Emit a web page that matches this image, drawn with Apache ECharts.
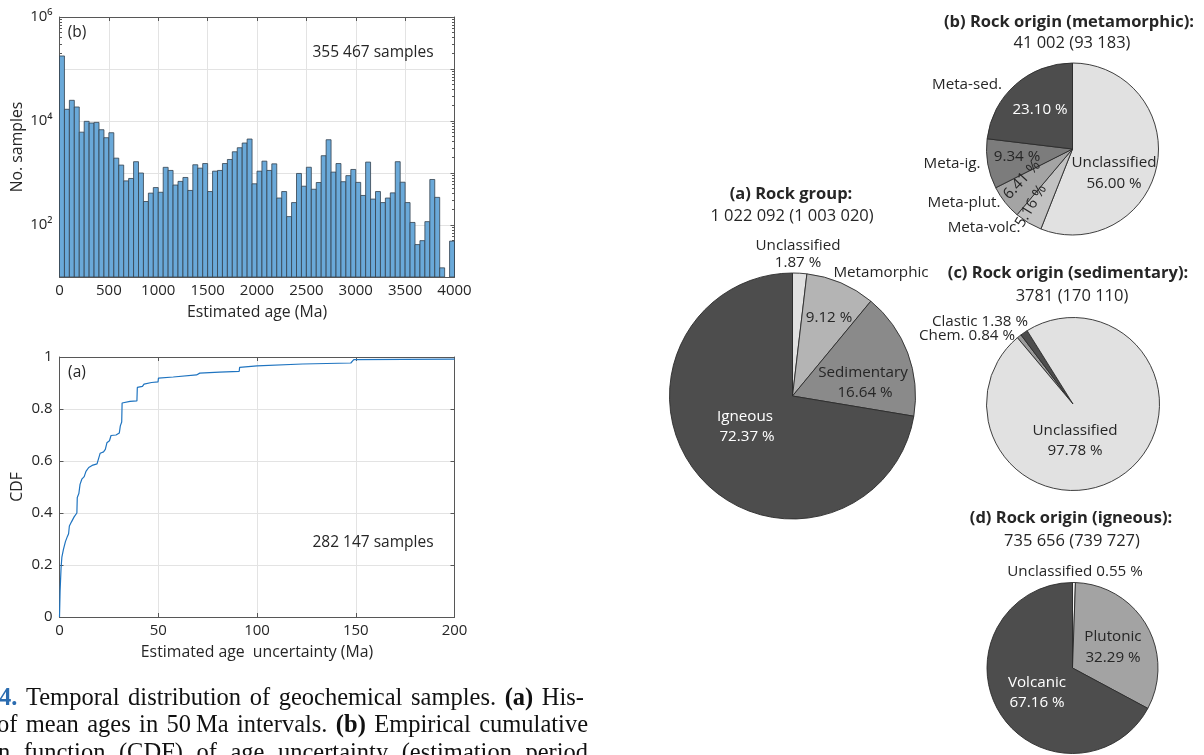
<!DOCTYPE html>
<html>
<head>
<meta charset="utf-8">
<script src="https://cdn.jsdelivr.net/npm/echarts@6/dist/echarts.min.js"></script>
<style>
  html, body { margin: 0; padding: 0; background: #ffffff; }
  #chart { width: 1204px; height: 755px; }
</style>
</head>
<body>
<div id="chart"></div>
<script>
// ---- Histogram of mean ages (50 Ma bins) ----
const ageBinStart = [0,50,100,150,200,250,300,350,400,450,500,550,600,650,700,750,800,850,900,950,
  1000,1050,1100,1150,1200,1250,1300,1350,1400,1450,1500,1550,1600,1650,1700,1750,1800,1850,1900,1950,
  2000,2050,2100,2150,2200,2250,2300,2350,2400,2450,2500,2550,2600,2650,2700,2750,2800,2850,2900,2950,
  3000,3050,3100,3150,3200,3250,3300,3350,3400,3450,3500,3550,3600,3650,3700,3750,3800,3850,3900,3950];
const ageBinWidth = 50;
const ageCounts = [178000,16800,25000,18600,6100,9850,9150,9400,6800,4770,
  5950,1930,1420,705,785,1650,1000,283,410,525,
  426,1285,1120,587,690,820,462,1440,1240,1520,
  440,1085,1120,1520,1820,2560,3060,3770,4500,620,
  1085,1690,1120,1500,330,440,145,270,980,557,
  1290,487,656,2150,4360,1040,1520,680,890,1170,
  660,370,1620,315,440,270,330,415,1650,665,
  270,112,42,50,116,750,340,15,0,49];
const countTickLabels = { 100: '10²', 10000: '10⁴', 1000000: '10⁶' };

// ---- Empirical CDF of age uncertainty ----
const cdfX = [0, 0.3, 0.8, 1.2, 2.0, 3.0, 4.0, 4.6, 5.0, 6.0, 7.4, 8.8, 9.0, 9.8, 10.4, 11.3, 12.5, 13.4,
  14.8, 16.5, 19.0, 20.0, 20.6, 22.3, 23.2, 24.0, 25.3, 26.1, 28.6, 30.3, 30.8, 31.5, 31.7, 35.7, 39.2,
  39.4, 42.0, 42.8, 46.6, 49.9, 50.1, 57.6, 69.4, 71.0, 81.0, 91.0, 91.2, 100, 123, 147.5, 149, 200];
const cdfY = [0, 0.10, 0.19, 0.23, 0.26, 0.29, 0.31, 0.32, 0.35, 0.365, 0.385, 0.40, 0.46, 0.475, 0.51,
  0.53, 0.54, 0.56, 0.575, 0.583, 0.589, 0.595, 0.63, 0.635, 0.645, 0.67, 0.678, 0.698, 0.70, 0.708,
  0.735, 0.75, 0.823, 0.829, 0.831, 0.883, 0.887, 0.896, 0.902, 0.904, 0.919, 0.923, 0.931, 0.938,
  0.942, 0.945, 0.960, 0.966, 0.973, 0.977, 0.990, 0.992];

// ---- Pie charts: rock classification (percent) ----
const groupNames = ['Unclassified', 'Metamorphic', 'Sedimentary', 'Igneous'];
const groupShares = [1.87, 9.12, 16.64, 72.37];
const metaNames = ['Unclassified', 'Meta-volc.', 'Meta-plut.', 'Meta-ig.', 'Meta-sed.'];
const metaShares = [56.00, 5.16, 6.41, 9.34, 23.10];
const sedNames = ['Chem.', 'Clastic', 'Unclassified'];
const sedShares = [0.84, 1.38, 97.78];
const ignNames = ['Unclassified', 'Plutonic', 'Volcanic'];
const ignShares = [0.55, 32.29, 67.16];

// ---- Caption lines (justified); 'n' = figure number, 'b' = bold ----
const captionLines = [
  [['4.', 'n'], ['Temporal'], ['distribution'], ['of'], ['geochemical'], ['samples.'], ['(a)', 'b'], ['His-']],
  [['of'], ['mean'], ['ages'], ['in'], ['50\u2009Ma'], ['intervals.'], ['(b)', 'b'], ['Empirical'], ['cumulative']],
  [['n'], ['function'], ['(CDF)'], ['of'], ['age'], ['uncertainty'], ['(estimation'], ['period']]
];

const SANS = '"Open Sans", "Noto Sans", sans-serif';
const SERIF_NAME = 'Liberation Serif';
const SERIF = '"Liberation Serif", "DejaVu Serif", serif';
const INK = '#262626';
const AXIS = '#575757';
const GRID = '#e3e3e3';
const COUNT_MIN = 10;
const PL = 15.2;   // pie label size
const PT = 16.5;   // pie title size
const CAP = 24.5;  // caption size

const chart = echarts.init(document.getElementById('chart'), null, { renderer: 'canvas' });

function pct(v) { return v.toFixed(2) + ' %'; }

function text(x, y, str, o) {
  o = o || {};
  const align = o.align || 'center';
  const v = o.vAlign || 'middle';
  return {
    type: 'text', x: x, y: y, rotation: o.rotation || 0, silent: true, z: 100,
    style: {
      text: str,
      fill: o.color || INK,
      fontSize: o.size || 15.5,
      fontFamily: o.family || SANS,
      fontWeight: o.weight || 'normal',
      align: align, verticalAlign: v,
      textAlign: align, textVerticalAlign: v
    }
  };
}

// Lay out one caption line with word gaps stretched to fill [left, right].
const measureCtx = document.createElement('canvas').getContext('2d');
function captionLine(words, left, right, y) {
  const widths = words.map(w => {
    measureCtx.font = (w[1] ? 'bold ' : '') + CAP + 'px "' + SERIF_NAME + '"';
    return measureCtx.measureText(w[0]).width;
  });
  const total = widths.reduce((a, b) => a + b, 0);
  const gap = (right - left - total) / (words.length - 1);
  let x = left;
  return words.map((w, i) => {
    const el = text(x, y, w[0], {
      align: 'left', family: SERIF, size: CAP,
      weight: w[1] ? 'bold' : 'normal',
      color: w[1] === 'n' ? '#2b6cb0' : '#111111'
    });
    x += widths[i] + gap;
    return el;
  });
}

function pieSeries(names, shares, colors, center, radius, startAngle) {
  return {
    type: 'pie', center: center, radius: radius, startAngle: startAngle, clockwise: true,
    silent: true, label: { show: false }, labelLine: { show: false },
    itemStyle: { borderColor: '#2b2b2b', borderWidth: 0.9 },
    data: names.map((n, i) => ({ name: n, value: shares[i], itemStyle: { color: colors[i] } }))
  };
}

const baseAxis = {
  type: 'value',
  axisLine: { show: true, onZero: false, lineStyle: { color: AXIS, width: 1 } },
  axisTick: { show: true, inside: true, length: 4, lineStyle: { color: AXIS } },
  axisLabel: { color: INK, fontFamily: SANS, fontSize: 15, margin: 6, formatter: v => String(v) },
  splitLine: { show: true, lineStyle: { color: GRID, width: 1 } },
  nameTextStyle: { color: INK, fontFamily: SANS, fontSize: 15.8 }
};

function axis(extra) { return Object.assign({}, baseAxis, extra); }

const graphicEls = [
  // panel annotations
  text(77, 33, '(b)'),
  text(373, 53, '355 467 samples'),
  text(77, 373, '(a)'),
  text(373, 543, '282 147 samples'),

  // (a) rock group
  text(791, 194, '(a) Rock group:', { weight: 'bold', size: PT }),
  text(792, 216, '1 022 092 (1 003 020)', { size: PT }),
  text(798, 246, groupNames[0], { size: PL }),
  text(798, 263, pct(groupShares[0]), { size: PL }),
  text(881, 273, groupNames[1], { size: PL }),
  text(829, 318, pct(groupShares[1]), { size: PL }),
  text(863, 373, groupNames[2], { size: PL }),
  text(865, 393, pct(groupShares[2]), { size: PL }),
  text(745, 417, groupNames[3], { size: PL, color: '#ffffff' }),
  text(747, 437, pct(groupShares[3]), { size: PL, color: '#ffffff' }),

  // (b) metamorphic origin
  text(1069, 22, '(b) Rock origin (metamorphic):', { weight: 'bold', size: PT }),
  text(1072, 43, '41 002 (93 183)', { size: PT }),
  text(967, 85, metaNames[4], { size: PL }),
  text(1040, 110, pct(metaShares[4]), { size: PL, color: '#ffffff' }),
  text(952, 164, metaNames[3], { size: PL }),
  text(1017, 157, pct(metaShares[3]), { size: PL }),
  text(1114, 163, metaNames[0], { size: PL }),
  text(1114, 184, pct(metaShares[0]), { size: PL }),
  text(964, 203, metaNames[2], { size: PL }),
  text(984, 228, metaNames[1], { size: PL }),
  text(1022, 180, pct(metaShares[2]), { size: PL, rotation: 47 * Math.PI / 180 }),
  text(1031, 206, pct(metaShares[1]), { size: PL, rotation: 59 * Math.PI / 180 }),

  // (c) sedimentary origin
  text(1068, 273, '(c) Rock origin (sedimentary):', { weight: 'bold', size: PT }),
  text(1072, 296, '3781 (170 110)', { size: PT }),
  text(1028, 322, sedNames[1] + ' ' + pct(sedShares[1]), { size: PL, align: 'right' }),
  text(1015, 336, sedNames[0] + ' ' + pct(sedShares[0]), { size: PL, align: 'right' }),
  text(1075, 431, sedNames[2], { size: PL }),
  text(1075, 451, pct(sedShares[2]), { size: PL }),

  // (d) igneous origin
  text(1071, 518, '(d) Rock origin (igneous):', { weight: 'bold', size: PT }),
  text(1072, 541, '735 656 (739 727)', { size: PT }),
  text(1075, 572, ignNames[0] + ' ' + pct(ignShares[0]), { size: PL }),
  text(1113, 637, ignNames[1], { size: PL }),
  text(1113, 658, pct(ignShares[1]), { size: PL }),
  text(1037, 683, ignNames[2], { size: PL, color: '#ffffff' }),
  text(1037, 703, pct(ignShares[2]), { size: PL, color: '#ffffff' })
].concat(
  captionLine(captionLines[0], -1, 584, 699),
  captionLine(captionLines[1], -3, 588, 726),
  captionLine(captionLines[2], -2, 588, 754)
);

const option = {
  animation: false,
  backgroundColor: '#ffffff',
  grid: [
    { left: 59.5, top: 17, width: 395, height: 260 },
    { left: 59.5, top: 357, width: 395, height: 260 }
  ],
  xAxis: [
    axis({ gridIndex: 0, min: 0, max: 4000, interval: 500, position: 'bottom',
      name: 'Estimated age (Ma)', nameLocation: 'middle', nameGap: 27 }),
    axis({ gridIndex: 0, min: 0, max: 4000, interval: 500, position: 'top',
      axisLabel: { show: false }, splitLine: { show: false } }),
    axis({ gridIndex: 1, min: 0, max: 200, interval: 50, position: 'bottom',
      name: 'Estimated age  uncertainty (Ma)', nameLocation: 'middle', nameGap: 27 }),
    axis({ gridIndex: 1, min: 0, max: 200, interval: 50, position: 'top',
      axisLabel: { show: false }, splitLine: { show: false } })
  ],
  yAxis: [
    axis({ gridIndex: 0, type: 'log', logBase: 10, min: COUNT_MIN, max: 1000000, position: 'left',
      axisLabel: { color: INK, fontFamily: SANS, fontSize: 15, margin: 7,
        formatter: v => countTickLabels[Math.round(v)] || '' },
      minorTick: { show: true, splitNumber: 9, length: 2.5, lineStyle: { color: AXIS } },
      name: 'No. samples', nameLocation: 'middle', nameRotate: 90, nameGap: 34 }),
    axis({ gridIndex: 0, type: 'log', logBase: 10, min: COUNT_MIN, max: 1000000, position: 'right',
      axisLabel: { show: false }, splitLine: { show: false },
      minorTick: { show: true, splitNumber: 9, length: 2.5, lineStyle: { color: AXIS } } }),
    axis({ gridIndex: 1, min: 0, max: 1, interval: 0.2, position: 'left',
      axisLabel: { color: INK, fontFamily: SANS, fontSize: 15, margin: 7 },
      name: 'CDF', nameLocation: 'middle', nameRotate: 90, nameGap: 34 }),
    axis({ gridIndex: 1, min: 0, max: 1, interval: 0.2, position: 'right',
      axisLabel: { show: false }, splitLine: { show: false } })
  ],
  series: [
    {
      // one rectangle per non-empty bin, from the bin's left to right edge
      type: 'custom', xAxisIndex: 0, yAxisIndex: 0, silent: true, clip: true,
      data: ageBinStart.map((s, i) => [s, s + ageBinWidth, ageCounts[i]]).filter(d => d[2] > 0),
      encode: { x: [0, 1], y: 2 },
      renderItem: function (params, api) {
        const top = api.coord([api.value(0), api.value(2)]);
        const base = api.coord([api.value(1), COUNT_MIN]);
        return {
          type: 'rect',
          shape: { x: top[0], y: top[1], width: base[0] - top[0], height: base[1] - top[1] },
          style: { fill: '#6aa9d9', stroke: '#34414e', lineWidth: 0.8 }
        };
      }
    },
    {
      type: 'line', xAxisIndex: 2, yAxisIndex: 2, silent: true, showSymbol: false, clip: true,
      lineStyle: { color: '#1f74c0', width: 1.2 },
      data: cdfX.map((x, i) => [x, cdfY[i]])
    },
    pieSeries(groupNames, groupShares, ['#e1e1e1', '#b4b4b4', '#8a8a8a', '#4d4d4d'], [792.5, 396], 123, 90),
    pieSeries(metaNames, metaShares, ['#e1e1e1', '#c2c2c2', '#a4a4a4', '#7c7c7c', '#4d4d4d'], [1072.5, 149], 86, 90),
    pieSeries(sedNames, sedShares, ['#9a9a9a', '#4d4d4d', '#e1e1e1'], [1073, 404], 86.5, 130),
    pieSeries(ignNames, ignShares, ['#f2f2f2', '#a3a3a3', '#4d4d4d'], [1072.5, 668], 85.5, 90)
  ],
  graphic: { elements: graphicEls }
};

chart.setOption(option);
</script>
</body>
</html>
